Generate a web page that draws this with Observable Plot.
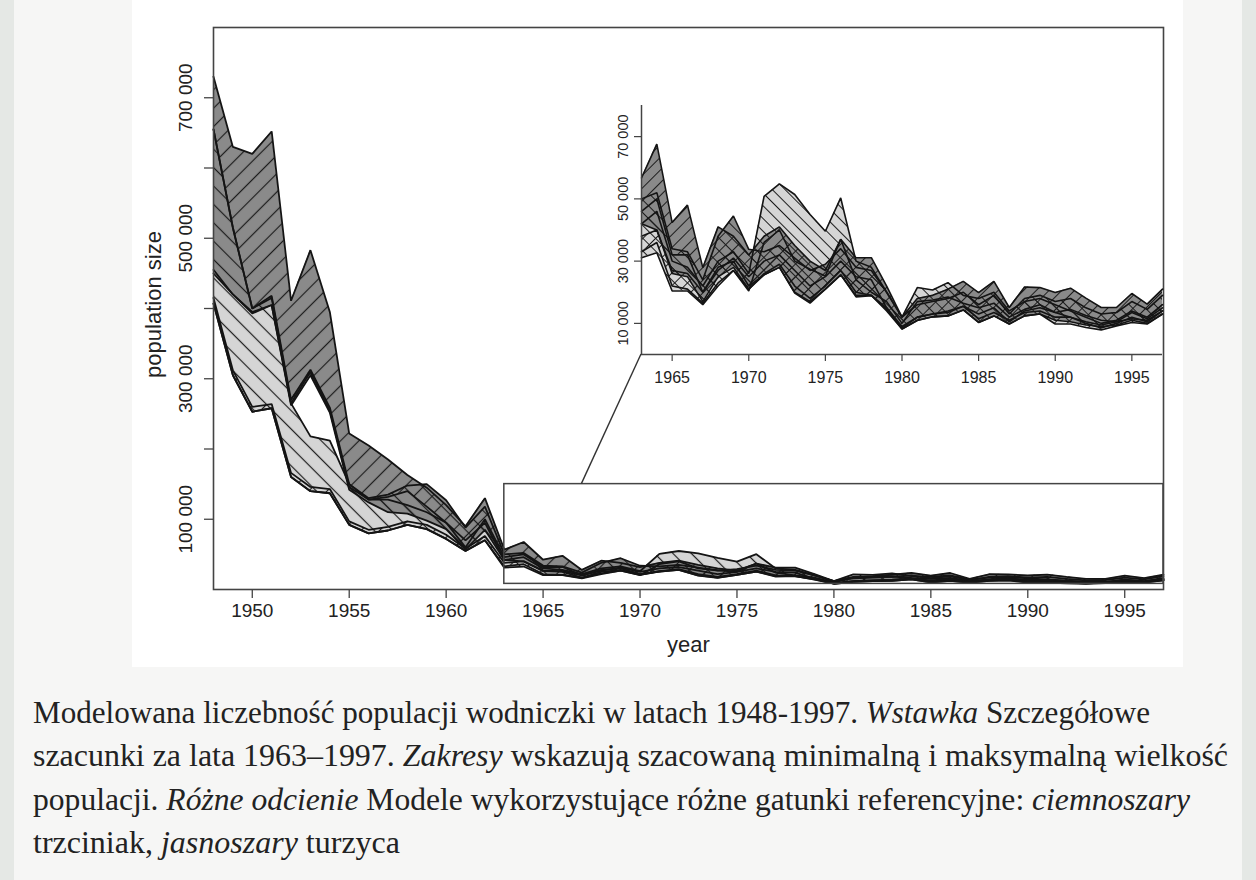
<!DOCTYPE html>
<html><head><meta charset="utf-8">
<script src="https://cdn.jsdelivr.net/npm/d3@7"></script>
<script src="https://cdn.jsdelivr.net/npm/@observablehq/plot@0.6"></script>
<style>
html,body{margin:0;padding:0;}
body{width:1256px;height:880px;background:#e5e8e5;position:relative;overflow:hidden;font-family:"Liberation Sans",Arial,sans-serif;}
#panel{position:absolute;left:14px;top:0;width:1228px;height:880px;background:#f6f6f5;}
#chartbg{position:absolute;left:132px;top:0;width:1051px;height:667px;background:#fff;}
#main{position:absolute;left:0;top:0;}
#inset{position:absolute;left:592px;top:92px;}
#conn{position:absolute;left:0;top:0;pointer-events:none;}
#caption{position:absolute;left:33px;top:691px;font-family:"Liberation Serif","Times New Roman",serif;font-size:31px;line-height:43.3px;color:#222;}
.ln{white-space:nowrap;transform-origin:0 0;width:max-content;}
</style></head><body>
<svg width="0" height="0" style="position:absolute">
<defs>
<pattern id="mainFwd" patternUnits="userSpaceOnUse" width="13" height="13" patternTransform="rotate(45)"><line x1="6.5" y1="-1" x2="6.5" y2="14" stroke="#1c1c1c" stroke-width="1.2"/></pattern>
<pattern id="mainBack" patternUnits="userSpaceOnUse" width="13" height="13" patternTransform="rotate(-45)"><line x1="6.5" y1="-1" x2="6.5" y2="14" stroke="#1c1c1c" stroke-width="1.2"/></pattern>
<pattern id="insFwd" patternUnits="userSpaceOnUse" width="9" height="9" patternTransform="rotate(45)"><line x1="4.5" y1="-1" x2="4.5" y2="10" stroke="#1c1c1c" stroke-width="1"/></pattern>
<pattern id="insBack" patternUnits="userSpaceOnUse" width="9" height="9" patternTransform="rotate(-45)"><line x1="4.5" y1="-1" x2="4.5" y2="10" stroke="#1c1c1c" stroke-width="1"/></pattern>
</defs></svg>
<div id="panel"></div>
<div id="chartbg"></div>
<div id="main"></div>
<div id="inset"></div>
<svg id="conn" width="1256" height="700"></svg>
<div id="caption">
<div class="ln" data-w="1117">Modelowana liczebność populacji wodniczki w latach 1948-1997. <i>Wstawka</i> Szczegółowe</div>
<div class="ln" data-w="1195">szacunki za lata 1963–1997. <i>Zakresy</i> wskazują szacowaną minimalną i maksymalną wielkość</div>
<div class="ln" data-w="1157">populacji. <i>Różne odcienie</i> Modele wykorzystujące różne gatunki referencyjne: <i>ciemnoszary</i></div>
<div class="ln" data-w="367">trzciniak, <i>jasnoszary</i> turzyca</div>
</div>
<script>
// ---- data (population in thousands) ----
const years = [1948,1949,1950,1951,1952,1953,1954,1955,1956,1957,1958,1959,1960,1961,1962,
  1963,1964,1965,1966,1967,1968,1969,1970,1971,1972,1973,1974,1975,1976,1977,1978,
  1979,1980,1981,1982,1983,1984,1985,1986,1987,1988,1989,1990,1991,1992,1993,1994,1995,1996,1997];

// reed warbler reference (dark grey), model A
const t1Upper = [730,630,620,652,411,483,395,222,205,185,163,145,120,90,130,
  56.7,67.6,42.4,48,27.9,41,38,32,38,41,35,30,27,37,31.1,31.1,
  22,12,18,19,21,23.5,19.9,23.5,15.1,21.7,21.5,19.9,21.3,18.1,15.1,15.1,19.6,16.2,21];
const t1Lower = [655,515,400,415,265,310,255,146,128,132,140,118,95,60,100,
  46,50,32,32,20,28,30,22,25.6,28,19.7,16.5,21,25.6,18.5,18.9,
  15,8.5,12,13,14,15.5,13,15,10.5,14,15,13.5,14.5,12.5,11,10.5,13.5,11.5,15];
// reed warbler reference (dark grey), model B
const t2Upper = [655,515,400,418,270,313,259,150,130,135,148,150,127,88,118,
  50,52,34,33,24,38,44.5,33.8,33,35,31,27,29,34,28,27,
  20,12,16,17,18,20,16,19,13,18,19,17,18,15,13,13.5,17,14.5,19];
const t2Lower = [455,420,393,405,262,305,252,142,124,110,108,98,86,57,85,
  42,40,26,25,17,25,28,21,26,29,22,18,22,27,20,19,
  14.5,8.2,11,12.1,12.4,14.3,10.3,12.4,9.8,12.4,13,11,10.5,9.5,9,9.5,11,10,13];
// sedge reference (light grey), model A
const s1Upper = [450,420,395,405,265,218,212,150,128,128,120,110,95,70,95,
  42,46,30,28,22,30,33,26,50.8,54.8,51.4,45,39.6,50.3,30,28,
  20,12,21.5,20.7,23.1,19,18,20,14,17,18,16,14,12,10,11,14,12,16];
const s1Lower = [407,305,253,258,160,140,137,92,80,84,92,86,72,55,70,
  31.1,32.7,20.4,20.4,16,22,27,20.4,36,40,30,27.4,25.2,37,24,20,
  17,10,17,17.5,18.5,16.5,15,16.5,12,14.5,16,13.5,12,10,8.5,10,12,10.5,14];
// sedge reference (light grey), model B
const s2Upper = [415,312,260,264,166,146,143,97,85,89,97,92,78,58,76,
  38,40,27,26,20,27,31,25,30,32,27,22,25,30,25,24,
  15,9,12,13,13.5,15.5,11.5,13.5,11,13.5,14,12,12,10.5,9.5,10.5,11.5,11,14];
const s2Lower = [407,305,253,258,160,140,137,92,80,84,92,86,72,55,70,
  33,36,22,21,16.5,23,27,21,25.6,28,20,17,21,25.6,19,19,
  14,8.2,10.9,12.1,12.4,14.3,10.3,12.4,9.8,12.4,13,9.8,9.8,8.7,7.9,9.2,10.3,9.8,13];

const mainXTicks = [1950,1955,1960,1965,1970,1975,1980,1985,1990,1995];
const mainYTicks = [100,200,300,400,500,600,700];
const mainYLabels = [100,300,500,700];
const insetXTicks = [1965,1970,1975,1980,1985,1990,1995];
const insetYTicks = [10,30,50,70];
const zoomYears = [1963,1997];
const zoomRange = [8,150];
const connectorYear = 1967;

// ---- build table ----
const rows = years.map((year,i)=>({year,
  t1u:t1Upper[i], t1l:t1Lower[i], t2u:t2Upper[i], t2l:t2Lower[i],
  s1u:s1Upper[i], s1l:s1Lower[i], s2u:s2Upper[i], s2l:s2Lower[i]}));
const insetRows = rows.filter(d => d.year >= zoomYears[0]);

const DARK = "#8a8a8a", LIGHT = "#d5d5d5";
const bands = [
  {lo:"s2l", hi:"s2u", fill:LIGHT, hatch:"Fwd"},
  {lo:"s1l", hi:"s1u", fill:LIGHT, hatch:"Back"},
  {lo:"t2l", hi:"t2u", fill:DARK, hatch:"Back"},
  {lo:"t1l", hi:"t1u", fill:DARK, hatch:"Fwd"}
];
const fmt = v => d3.format(",")(v*1000).replace(/,/g, " ");
const FONT = "'Liberation Sans', Arial, Helvetica, sans-serif";

function bandMarks(data, prefix, lineW) {
  const m = [];
  for (const b of bands) m.push(Plot.areaY(data, {x:"year", y1:b.lo, y2:b.hi, fill:b.fill}));
  for (const b of bands) m.push(Plot.areaY(data, {x:"year", y1:b.lo, y2:b.hi, fill:`url(#${prefix}${b.hatch})`}));
  for (const b of bands) {
    m.push(Plot.line(data, {x:"year", y:b.hi, stroke:"#141414", strokeWidth:lineW, strokeLinejoin:"miter"}));
    m.push(Plot.line(data, {x:"year", y:b.lo, stroke:"#141414", strokeWidth:lineW, strokeLinejoin:"miter"}));
  }
  return m;
}

const main = Plot.plot({
  width: 1256, height: 670,
  marginLeft: 213, marginRight: 93, marginTop: 27, marginBottom: 81,
  x: {domain: [1948, 1997]},
  y: {domain: [0, 800]},
  style: {background: "transparent", fontFamily: FONT, fontSize: "19px", color: "#222", overflow: "visible"},
  marks: [
    ...bandMarks(rows, "main", 1.8),
    Plot.rect([{x1: zoomYears[0], x2: zoomYears[1], y1: zoomRange[0], y2: zoomRange[1]}],
      {x1:"x1", x2:"x2", y1:"y1", y2:"y2", fill:"none", stroke:"#444", strokeWidth:1.5}),
    Plot.axisX({ticks: mainXTicks, tickSize: 9, tickPadding: 5, tickFormat: d => String(d), label: null, stroke:"#444", strokeWidth:1.3, fontSize: 19}),
    Plot.axisY({ticks: mainYTicks, tickSize: 9, tickFormat: () => "", label: null, stroke:"#444", strokeWidth:1.3}),
    Plot.text(mainYLabels, {y: d => d, text: d => fmt(d), frameAnchor: "left", textAnchor: "middle", dx: -28, rotate: -90, fontSize: 19, fill:"#222"}),
    Plot.text(["population size"], {text: d => d, frameAnchor: "left", textAnchor: "middle", dx: -60, dy: -4, rotate: -90, fontSize: 22, fill:"#222"}),
    Plot.text(["year"], {text: d => d, frameAnchor: "bottom", textAnchor: "middle", dy: 62, fontSize: 22, fill:"#222"}),
    Plot.frame({stroke: "#444", strokeWidth: 1.6})
  ]
});
document.getElementById("main").appendChild(main);

const inset = Plot.plot({
  width: 570, height: 310,
  marginLeft: 49, marginRight: 0, marginTop: 13, marginBottom: 48,
  x: {domain: zoomYears},
  y: {domain: [0, 80]},
  style: {background: "#fff", fontFamily: FONT, fontSize: "16px", color: "#222", overflow: "visible"},
  marks: [
    ...bandMarks(insetRows, "ins", 1.6),
    Plot.ruleX([zoomYears[0]], {stroke:"#444", strokeWidth:1.5}),
    Plot.ruleY([0], {stroke:"#444", strokeWidth:1.5}),
    Plot.axisX({ticks: insetXTicks, tickSize: 7, tickPadding: 10, tickFormat: d => String(d), label: null, stroke:"#444", strokeWidth:1.2, fontSize: 16}),
    Plot.axisY({ticks: insetYTicks, tickSize: 7, tickFormat: () => "", label: null, stroke:"#444", strokeWidth:1.2}),
    Plot.text(insetYTicks, {y: d => d, text: d => fmt(d), frameAnchor: "left", textAnchor: "middle", dx: -18, rotate: -90, fontSize: 14.5, fill:"#222"})
  ]
});
document.getElementById("inset").appendChild(inset);

// connector from zoom box to inset origin
(function(){
  const mx = main.scale("x"), my = main.scale("y");
  const ix = inset.scale("x"), iy = inset.scale("y");
  const ox = 592, oy = 92;
  const x1 = mx.apply(connectorYear), y1 = my.apply(zoomRange[1]);
  const x2 = ox + ix.apply(zoomYears[0]), y2 = oy + iy.apply(0);
  d3.select("#conn").append("line").attr("x1", x1).attr("y1", y1).attr("x2", x2).attr("y2", y2)
    .attr("stroke", "#333").attr("stroke-width", 1.4);
})();

// caption fitting
function fitCaption(){
  document.querySelectorAll(".ln").forEach(el => {
    el.style.transform = "none";
    const w = el.getBoundingClientRect().width;
    const target = +el.dataset.w;
    if (w > 0) el.style.transform = `scaleX(${target / w})`;
  });
}
fitCaption();
if (document.fonts && document.fonts.ready) document.fonts.ready.then(fitCaption);
</script>
</body></html>
